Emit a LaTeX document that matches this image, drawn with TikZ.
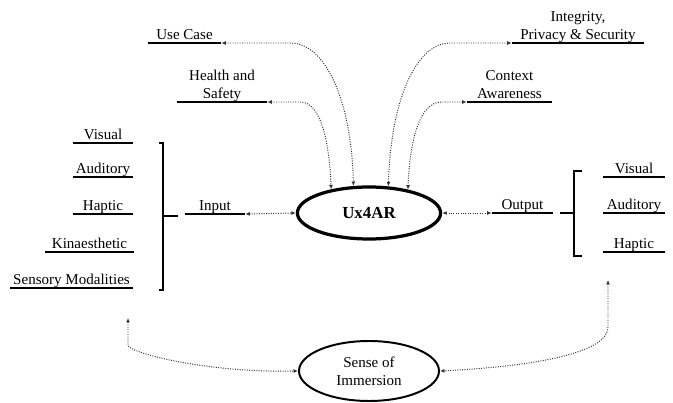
\documentclass[tikz,border=0pt]{standalone}
\usepackage{fontspec}
\setmainfont{Liberation Serif}
\usetikzlibrary{shapes.geometric,arrows.meta}

\tikzset{
  item/.style={anchor=south, minimum width=#1*0.25mm, inner xsep=0pt, inner ysep=0.4pt,
    text depth=2.2pt, align=center, font=\fontsize{10.7}{12.5}\selectfont},
  uline/.style={line width=1.3pt},
  brace/.style={line width=1.2pt},
  link/.style={densely dotted, line width=0.7pt, black!80,
    {Latex[length=3.2pt,width=2.8pt]}-{Latex[length=3.2pt,width=2.8pt]}},
  bubble/.style={ellipse, draw, align=center}
}

\begin{document}
\begin{tikzpicture}[x=0.25mm,y=0.25mm]
\useasboundingbox (0,0) rectangle (673,-403);

% centre
\node[bubble, line width=2.3pt, minimum width=3.58cm, minimum height=1.3cm,
  font=\fontsize{12}{14}\selectfont\bfseries] (ux) at (369,-213) {Ux4AR};
\node[bubble, line width=1.4pt, minimum width=3.5cm, minimum height=1.5cm,
  font=\fontsize{10.7}{12.5}\selectfont] (sense) at (369,-371) {Sense of\\Immersion};

% top
\node[item=73] (usecase) at (184.5,-43) {Use Case};
\node[item=90] (health) at (222,-102) {Health and\\Safety};
\node[item=132] (integrity) at (578,-43) {Integrity,\\Privacy \& Security};
\node[item=85] (context) at (509.5,-102) {Context\\Awareness};

% input side
\node[item=60] (inp) at (215,-214) {Input};
\node[item=60] (lvis) at (103,-143) {Visual};
\node[item=60] (laud) at (103,-177) {Auditory};
\node[item=60] (lhap) at (103,-214) {Haptic};
\node[item=89] (lkin) at (89.5,-252) {Kinaesthetic};
\node[item=123] (lsen) at (71.5,-288) {Sensory Modalities};

% output side
\node[item=61] (outp) at (522.5,-213) {Output};
\node[item=62] (rvis) at (634,-177) {Visual};
\node[item=62] (raud) at (634,-213) {Auditory};
\node[item=62] (rhap) at (634,-252) {Haptic};

\foreach \n in {usecase,health,integrity,context,inp,lvis,laud,lhap,lkin,lsen,outp,rvis,raud,rhap}
  \draw[uline] (\n.south west) -- (\n.south east);

% brackets
\draw[brace] (159,-143) -- (163,-143) -- (163,-290) -- (159,-290);
\draw[brace] (163,-216) -- (178,-216);
\draw[brace] (582,-171) -- (574,-171) -- (574,-256) -- (582,-256);
\draw[brace] (560,-213) -- (574,-213);

\coordinate (immL) at (128,-318);
\coordinate (immR) at (608,-280);

% links
\draw[link] (usecase.south east) -- ++(69,0) .. controls +(35,0) and +(-2,86) .. (ux.120);
\draw[link] (health.south east) -- ++(33,0) .. controls +(20,0) and +(-2,50) .. (ux.148);
\draw[link] (integrity.south west) -- ++(-62,0) .. controls +(-30,0) and +(3,95) .. (ux.54);
\draw[link] (context.south west) -- ++(-25,0) .. controls +(-22,0) and +(2,50) .. (ux.31);
\draw[link] (inp.south east) -- (ux.west);
\draw[link] (ux.east) -- (outp.south west);
\draw[link] (immL) -- ++(0,-27) .. controls +(0,-8) and +(-90,-2) .. (sense.west);
\draw[link] (immR) -- ++(0,-47) .. controls +(0,-25) and +(100,5) .. (sense.east);
\end{tikzpicture}
\end{document}
